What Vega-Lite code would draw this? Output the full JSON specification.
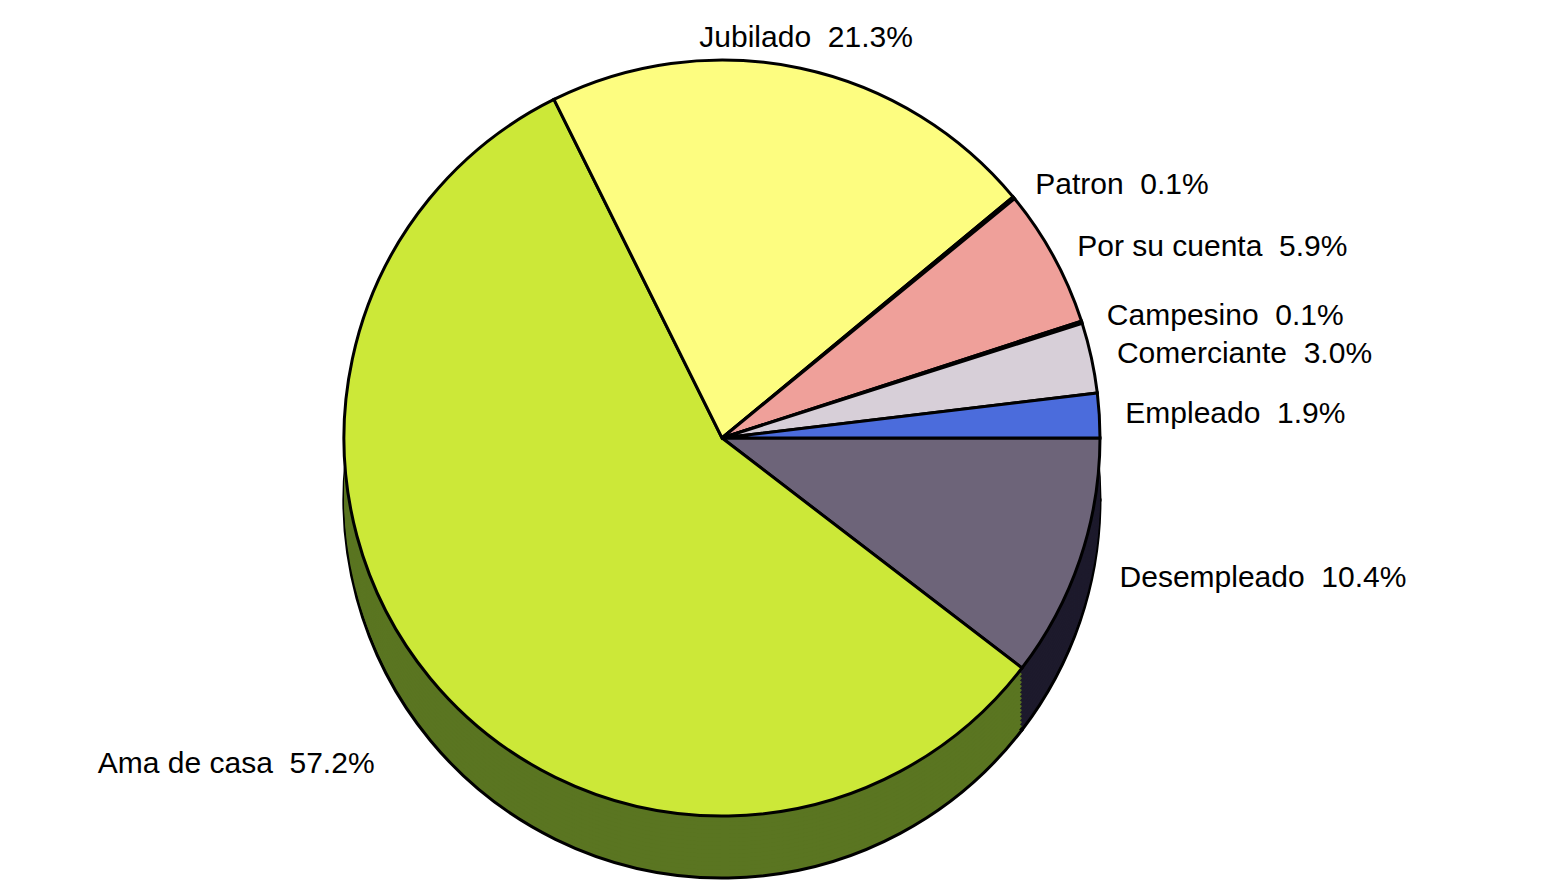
{
  "$schema": "https://vega.github.io/schema/vega-lite/v6.json",
  "width": 1546,
  "height": 885,
  "autosize": {"type": "fit", "contains": "padding"},
  "padding": {"left": 0, "top": 0, "right": 102, "bottom": 5},
  "background": "white",
  "config": {"view": {"stroke": null}, "text": {"font": "Liberation Sans", "fontSize": 30, "color": "black"}},
  "data": {
    "values": [
      {"ocupacion": "Desempleado", "pct": 10.4, "orden": 1},
      {"ocupacion": "Ama de casa", "pct": 57.2, "orden": 2},
      {"ocupacion": "Jubilado", "pct": 21.3, "orden": 3},
      {"ocupacion": "Patron", "pct": 0.1, "orden": 4},
      {"ocupacion": "Por su cuenta", "pct": 5.9, "orden": 5},
      {"ocupacion": "Campesino", "pct": 0.1, "orden": 6},
      {"ocupacion": "Comerciante", "pct": 3.0, "orden": 7},
      {"ocupacion": "Empleado", "pct": 1.9, "orden": 8}
    ]
  },
  "transform": [
    {"calculate": "datum.ocupacion + '\u00a0\u00a0' + format(datum.pct, '.1f') + '%'", "as": "etiqueta"}
  ],
  "encoding": {
    "theta": {"field": "pct", "type": "quantitative", "stack": true, "scale": {"range": [1.5708, 7.854]}},
    "order": {"field": "orden", "type": "quantitative", "sort": "ascending"}
  },
  "layer": [
    {
      "encoding": {
        "color": {
          "field": "ocupacion", "type": "nominal", "legend": null,
          "scale": {
            "domain": ["Desempleado", "Ama de casa", "Jubilado", "Patron", "Por su cuenta", "Campesino", "Comerciante", "Empleado"],
            "range": ["#1d1a2c", "#5a7521", "#8a8a40", "#111111", "#8a5a55", "#111111", "#7a757a", "#2a3d80"]
          }
        }
      },
      "layer": [
        {"mark": {"type": "arc", "outerRadius": 378, "yOffset": 62, "stroke": "black", "strokeWidth": 3}},
        {"mark": {"type": "arc", "outerRadius": 378, "yOffset": 58}},
        {"mark": {"type": "arc", "outerRadius": 378, "yOffset": 54}},
        {"mark": {"type": "arc", "outerRadius": 378, "yOffset": 50}},
        {"mark": {"type": "arc", "outerRadius": 378, "yOffset": 46}},
        {"mark": {"type": "arc", "outerRadius": 378, "yOffset": 42}},
        {"mark": {"type": "arc", "outerRadius": 378, "yOffset": 38}},
        {"mark": {"type": "arc", "outerRadius": 378, "yOffset": 34}},
        {"mark": {"type": "arc", "outerRadius": 378, "yOffset": 30}},
        {"mark": {"type": "arc", "outerRadius": 378, "yOffset": 26}},
        {"mark": {"type": "arc", "outerRadius": 378, "yOffset": 22}},
        {"mark": {"type": "arc", "outerRadius": 378, "yOffset": 18}},
        {"mark": {"type": "arc", "outerRadius": 378, "yOffset": 14}},
        {"mark": {"type": "arc", "outerRadius": 378, "yOffset": 10}},
        {"mark": {"type": "arc", "outerRadius": 378, "yOffset": 6}},
        {"mark": {"type": "arc", "outerRadius": 378, "yOffset": 2}}
      ]
    },
    {
      "mark": {"type": "arc", "outerRadius": 378, "stroke": "black", "strokeWidth": 3},
      "encoding": {
        "color": {
          "field": "ocupacion", "type": "nominal", "legend": null,
          "scale": {
            "domain": ["Desempleado", "Ama de casa", "Jubilado", "Patron", "Por su cuenta", "Campesino", "Comerciante", "Empleado"],
            "range": ["#6d6479", "#cce838", "#fdfd80", "#111111", "#efa09a", "#111111", "#d7cfd8", "#4b6cdc"]
          }
        }
      }
    },
    {
      "mark": {"type": "text", "radius": 398, "align": "left", "baseline": "middle", "dx": 6},
      "encoding": {
        "text": {"field": "etiqueta"},
        "opacity": {"condition": {"test": "datum.orden <= 3", "value": 0}, "value": 1}
      }
    },
    {
      "mark": {"type": "text", "radius": 405, "align": "left", "baseline": "middle", "dx": 14, "dy": 10},
      "encoding": {
        "text": {"field": "etiqueta"},
        "opacity": {"condition": {"test": "datum.orden == 1", "value": 1}, "value": 0}
      }
    },
    {
      "mark": {"type": "text", "radius": 450, "align": "right", "baseline": "middle", "dy": 40},
      "encoding": {
        "text": {"field": "etiqueta"},
        "opacity": {"condition": {"test": "datum.orden == 2", "value": 1}, "value": 0}
      }
    },
    {
      "mark": {"type": "text", "radius": 405, "align": "center", "baseline": "middle", "dy": -4},
      "encoding": {
        "text": {"field": "etiqueta"},
        "opacity": {"condition": {"test": "datum.orden == 3", "value": 1}, "value": 0}
      }
    }
  ],
  "resolve": {"scale": {"color": "independent"}}
}
